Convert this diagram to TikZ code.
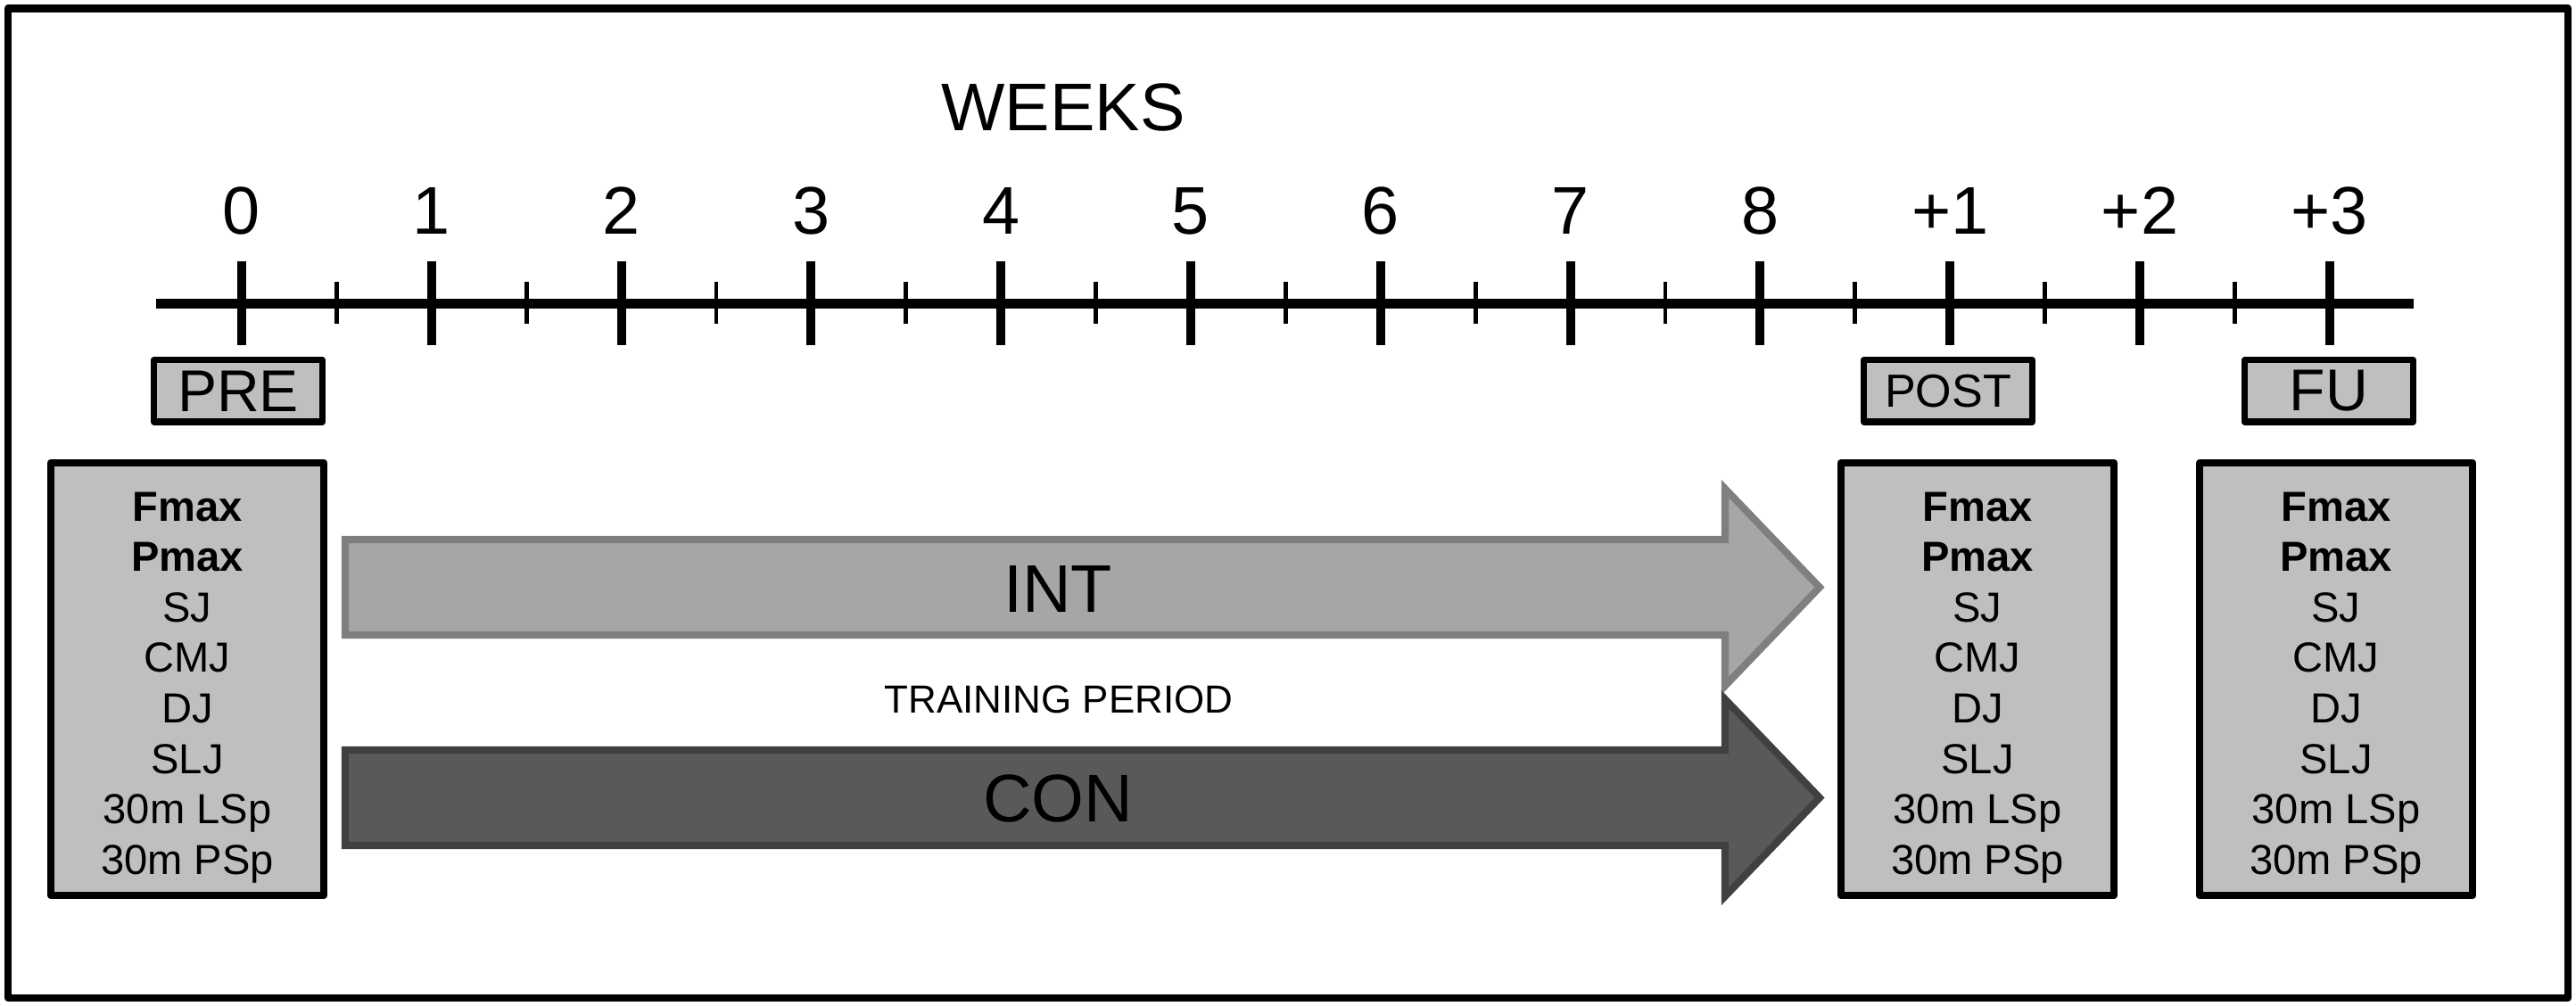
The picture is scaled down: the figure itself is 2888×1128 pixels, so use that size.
\documentclass[tikz,border=0pt]{standalone}
\usepackage{fontspec}
\setmainfont{Liberation Sans}
\definecolor{boxgray}{HTML}{BFBFBF}
\definecolor{intfill}{HTML}{A6A6A6}
\definecolor{intline}{HTML}{7F7F7F}
\definecolor{confill}{HTML}{595959}
\definecolor{conline}{HTML}{404040}
\begin{document}
\begin{tikzpicture}[x=0.01cm,y=-0.01cm,
  frame/.style={draw=black,line width=2.3pt,line join=round},
  axisline/.style={line width=3.1pt},
  majortick/.style={line width=2.85pt},
  minortick/.style={line width=1.4pt},
  bigfont/.style={font=\fontsize{21.5}{25}\selectfont},
  ticklabel/.style={bigfont,anchor=base,inner sep=0},
  tagbox/.style={draw=black,fill=boxgray,line width=2pt,line join=round,minimum width=1.89cm,minimum height=0.69cm,inner sep=0},
  bigbox/.style={draw=black,fill=boxgray,line width=2.3pt,line join=round,minimum width=3.06cm,minimum height=4.85cm,inner sep=0},
  listtext/.style={font=\fontsize{13.4}{16.1}\selectfont,align=center,anchor=north,inner sep=0},
  intarrow/.style={draw=intline,fill=intfill,line width=2.3pt},
  conarrow/.style={draw=conline,fill=confill,line width=2.3pt},
]
\useasboundingbox (0,0) rectangle (2888,1128);
\draw[frame] (9,9.5) rectangle (2879,1119);

% title
\node[ticklabel] (weeks) at (1192,147) {WEEKS};

% axis
\coordinate (axL) at (175,340.5);
\coordinate (axR) at (2706,340.5);
\draw[axisline] (axL) -- (axR);
\foreach \i/\lab in {0/0,1/1,2/2,3/3,4/4,5/5,6/6,7/7,8/8,9/+1,10/+2,11/+3}{
  \pgfmathsetmacro\tx{271+212.8*\i}
  \draw[majortick] (\tx,293) -- (\tx,387);
  \node[ticklabel] (w\i) at (\tx,263) {\lab};
}
\foreach \i in {0,...,10}{
  \pgfmathsetmacro\tx{271+212.8*\i+106.4}
  \draw[minortick] (\tx,316) -- (\tx,363);
}

% tags
\node[tagbox,font=\fontsize{18.8}{22}\selectfont] (pre) at (267,438.5) {PRE};
\node[tagbox,font=\fontsize{14.8}{18}\selectfont] (post) at (2184,438.5) {POST};
\node[tagbox,font=\fontsize{18.8}{22}\selectfont] (fu) at (2611,438.5) {FU};

% measurement boxes
\node[bigbox] (prebox) at (210,761.5) {};
\node[bigbox] (postbox) at (2217,761.5) {};
\node[bigbox] (fubox) at (2619,761.5) {};
\node[listtext] (pretxt) at (210,551) {\textbf{Fmax}\\\textbf{Pmax}\\SJ\\CMJ\\DJ\\SLJ\\30m LSp\\30m PSp};
\node[listtext] (posttxt) at (2217,551) {\textbf{Fmax}\\\textbf{Pmax}\\SJ\\CMJ\\DJ\\SLJ\\30m LSp\\30m PSp};
\node[listtext] (futxt) at (2619,551) {\textbf{Fmax}\\\textbf{Pmax}\\SJ\\CMJ\\DJ\\SLJ\\30m LSp\\30m PSp};

% group arrows
\draw[intarrow] (387,605) -- (1934,605) -- (1934,548) -- (2040,658.5) -- (1934,769) -- (1934,712) -- (387,712) -- cycle;
\node[bigfont,inner sep=0] (int) at (1186,660) {INT};
\draw[conarrow] (387,841) -- (1934,841) -- (1934,784) -- (2040,894.5) -- (1934,1005) -- (1934,948) -- (387,948) -- cycle;
\node[bigfont,inner sep=0] (con) at (1186,895.5) {CON};

\node[font=\fontsize{12.5}{15}\selectfont,inner sep=0] (train) at (1187,784) {TRAINING PERIOD};
\end{tikzpicture}
\end{document}
